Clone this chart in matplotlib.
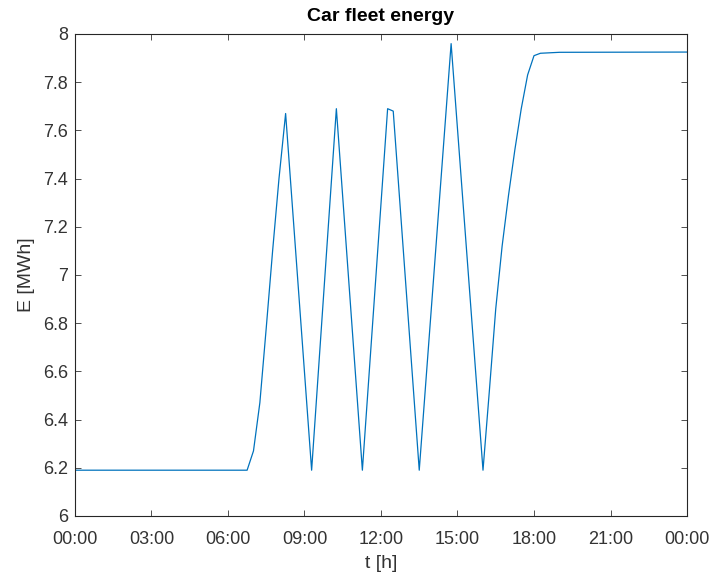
import matplotlib
matplotlib.use("Agg")
import matplotlib.pyplot as plt
from matplotlib.ticker import FuncFormatter, MultipleLocator

# time in hours, energy in MWh
hours = [0.0, 6.75, 7.0, 7.25, 7.5, 7.75, 8.0, 8.26,
         9.28, 10.25, 11.27, 12.26, 12.48, 13.5, 14.75,
         16.0, 16.25, 16.5, 16.75, 17.0, 17.25, 17.5, 17.75, 18.0, 18.25, 19.0, 24.0]
energy = [6.19, 6.19, 6.27, 6.47, 6.78, 7.1, 7.4, 7.67,
          6.19, 7.69, 6.19, 7.69, 7.68, 6.19, 7.96,
          6.19, 6.52, 6.86, 7.12, 7.33, 7.52, 7.69, 7.83, 7.91, 7.92, 7.924, 7.925]

xticks = list(range(0, 25, 3))

plt.rcParams['font.family'] = ['Liberation Sans', 'DejaVu Sans']

fig = plt.figure(figsize=(7.12, 5.81), dpi=100)
ax = fig.add_axes([0.1053, 0.1119, 0.8596, 0.8296])

ax.plot(hours, energy, color='#0072BD', linewidth=0.9)

ax.set_xlim(0, 24)
ax.set_ylim(6, 8)
ax.set_xticks(xticks)
ax.xaxis.set_major_formatter(FuncFormatter(lambda h, pos: f"{int(h) % 24:02d}:00"))
ax.yaxis.set_major_locator(MultipleLocator(0.2))
ax.yaxis.set_major_formatter(FuncFormatter(lambda v, pos: f"{v:g}"))

ax.tick_params(direction='in', top=True, right=True, length=4, width=0.6,
               labelsize=13, colors='#333333')
ax.tick_params(axis='x', pad=11)
ax.tick_params(axis='y', pad=5)
for s in ax.spines.values():
    s.set_linewidth(0.8)
    s.set_color('#262626')

ax.set_xlabel('t [h]', fontsize=14, color='#333333', labelpad=5)
ax.set_ylabel('E [MWh]', fontsize=14, color='#333333', labelpad=6)
ax.set_title('Car fleet energy', fontsize=14, fontweight='bold', pad=9)

fig.savefig('out.png', dpi=100)
